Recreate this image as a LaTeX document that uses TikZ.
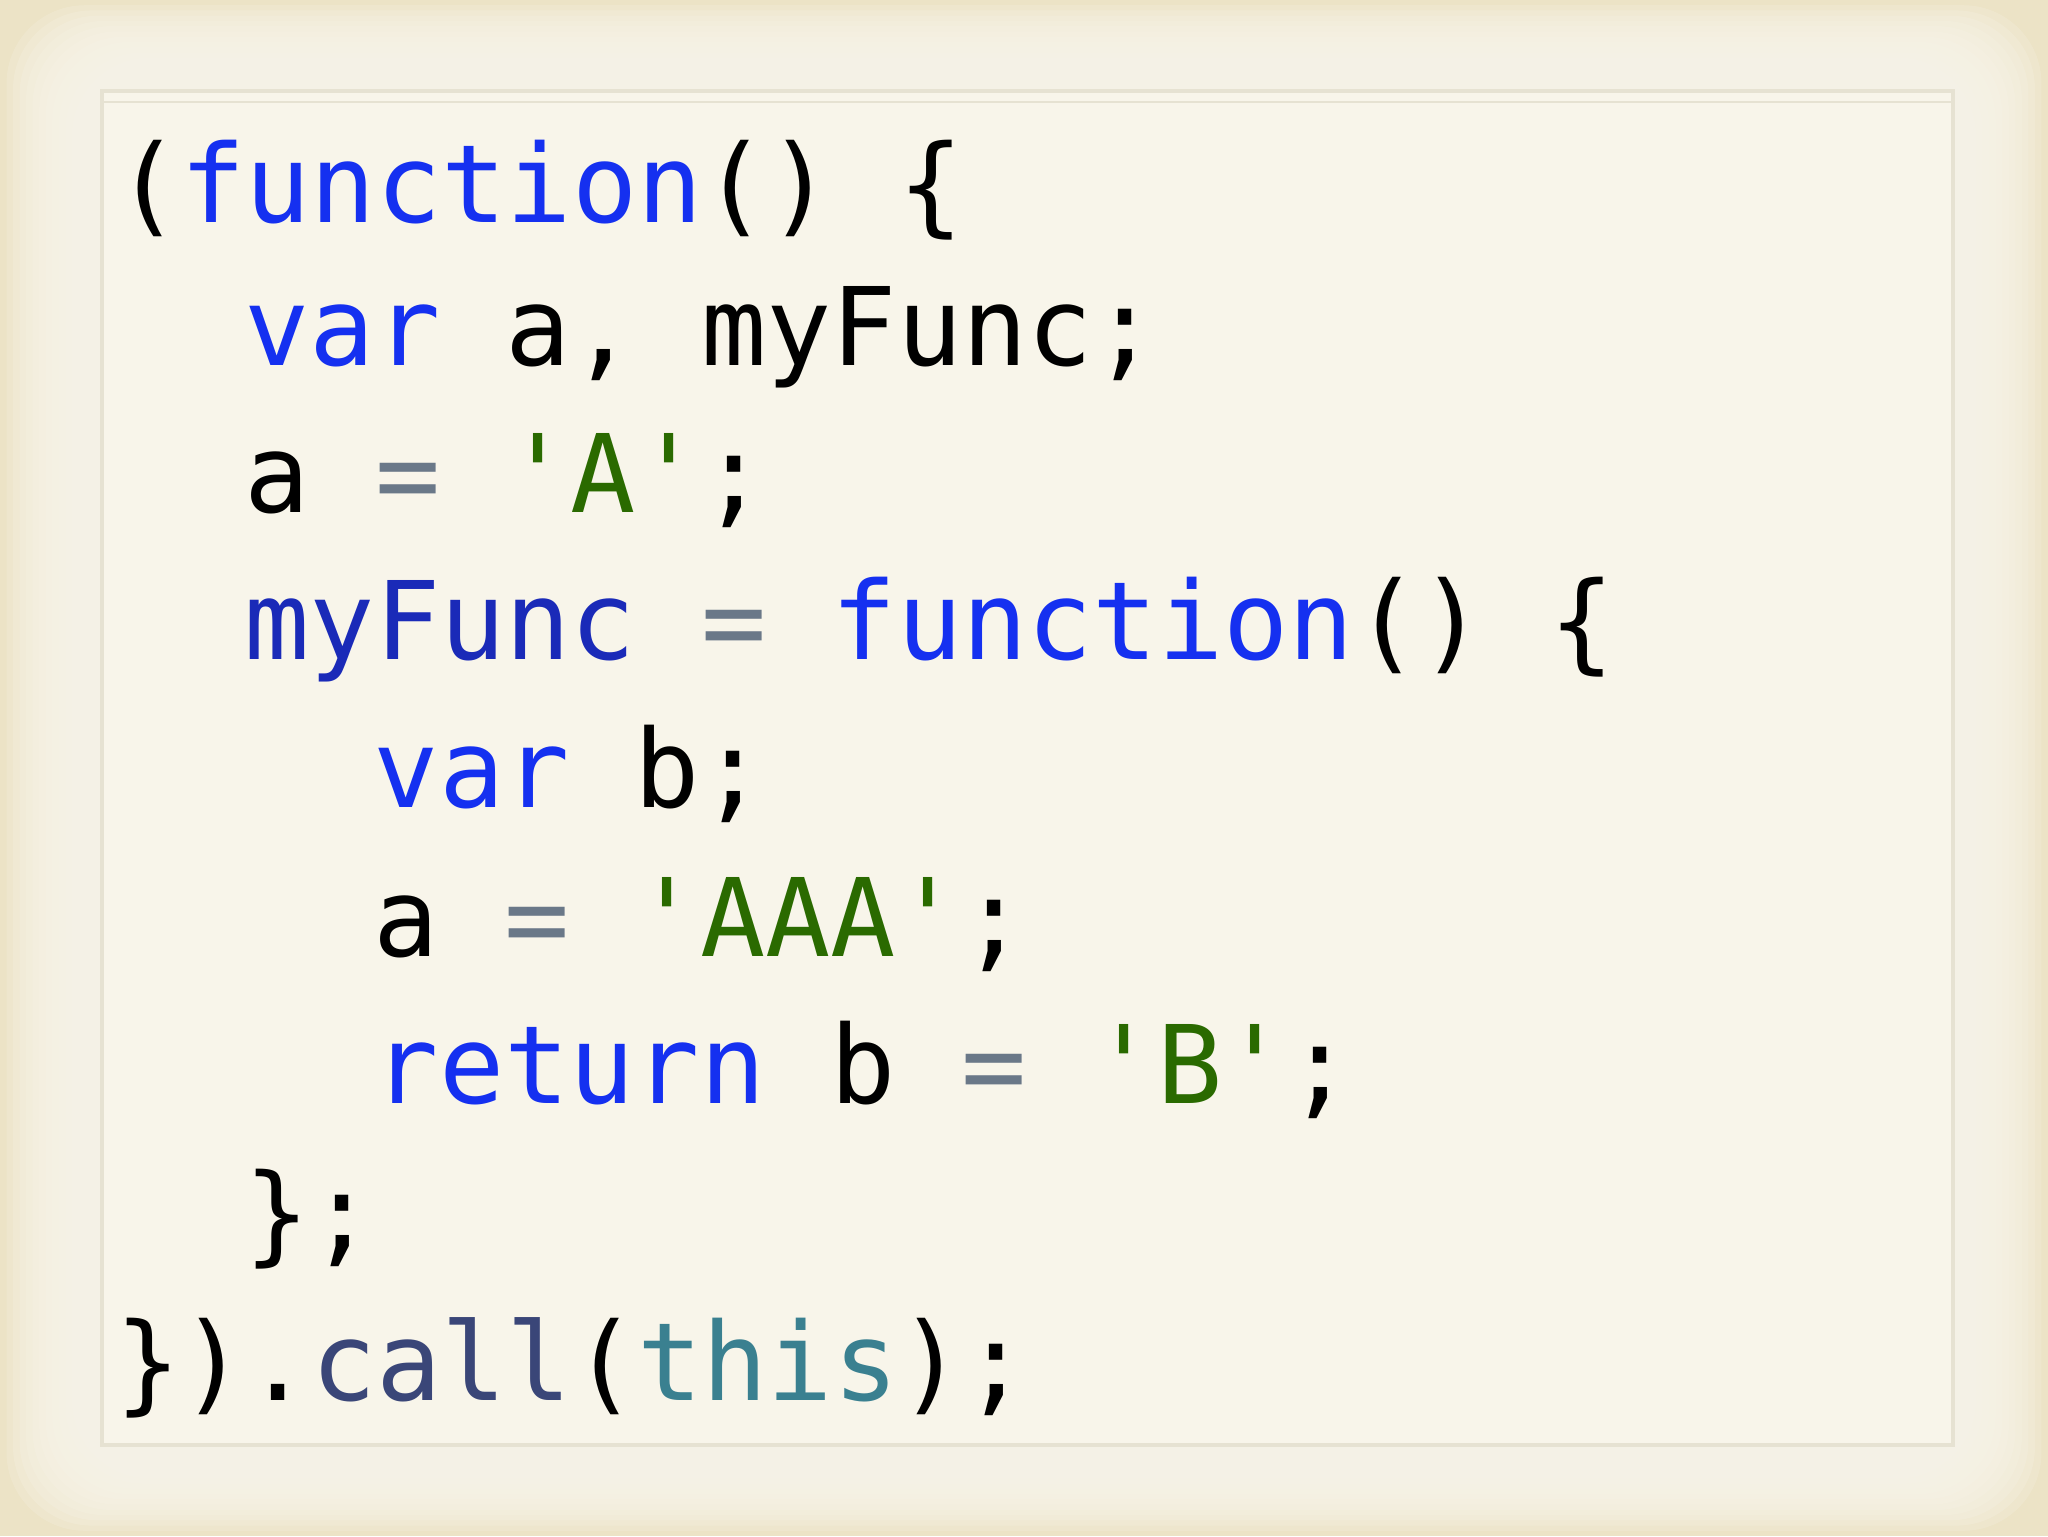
\documentclass[tikz,border=0pt]{standalone}
\usepackage{fontspec}
\setmonofont{DejaVu Sans Mono}
\definecolor{kw}{HTML}{1530F0}
\definecolor{str}{HTML}{2A6A00}
\definecolor{eq}{HTML}{6A7888}
\definecolor{fn}{HTML}{1A2AB8}
\definecolor{cl}{HTML}{3A4678}
\definecolor{th}{HTML}{3A8090}
\definecolor{bgout}{HTML}{ECE3C6}
\definecolor{bgin}{HTML}{F8F5EA}
\definecolor{panel}{HTML}{F8F5EA}
\definecolor{pborder}{HTML}{E6E2D2}
\tikzset{codeline/.style={anchor=base west,inner sep=0pt,font=\ttfamily\fontsize{83}{113}\selectfont}}
\newcommand{\K}[1]{\textcolor{kw}{#1}}
\newcommand{\St}[1]{\textcolor{str}{#1}}
\newcommand{\E}{\textcolor{eq}{=}}
\begin{document}
\begin{tikzpicture}[x=1pt,y=1pt]
\useasboundingbox (0,0) rectangle (1568,-1176);
\fill[bgout] (0,0) rectangle (1568,-1176);
\foreach \i in {1,...,12} {
  \fill[bgin,opacity=0.22,rounded corners=60pt] (5*\i,-4*\i) rectangle (1568-5*\i,-1176+4*\i);
}
\draw[pborder,line width=3pt,fill=panel] (78,-70) rectangle (1495,-1106);
\draw[pborder,line width=1pt] (78,-78) -- (1495,-78);
\node[codeline] (l1) at (88,-170) {(\K{function}() \{};
\node[codeline] (l2) at (187,-280) {\K{var} a, myFunc;};
\node[codeline] (l3) at (187,-392) {a \E{} \St{'A'};};
\node[codeline] (l4) at (187,-505) {\textcolor{fn}{myFunc} \E{} \K{function}() \{};
\node[codeline] (l5) at (286,-618) {\K{var} b;};
\node[codeline] (l6) at (286,-732) {a \E{} \St{'AAA'};};
\node[codeline] (l7) at (286,-845) {\K{return} b \E{} \St{'B'};};
\node[codeline] (l8) at (187,-958) {\};};
\node[codeline] (l9) at (88,-1072) {\}).\textcolor{cl}{call}(\textcolor{th}{this});};
\end{tikzpicture}
\end{document}
